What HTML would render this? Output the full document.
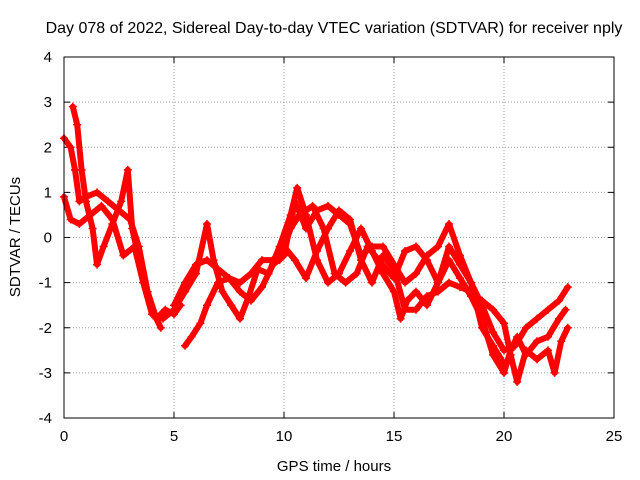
<!DOCTYPE html>
<html><head><meta charset="utf-8"><style>
body{margin:0;background:#fff}
svg{display:block;font-family:"Liberation Sans",sans-serif;font-size:15px}
</style></head><body>
<svg id="chart" width="640" height="480">
<text x="334" y="33" text-anchor="middle" style="font-size:16px">Day 078 of 2022, Sidereal Day-to-day VTEC variation (SDTVAR) for receiver nply</text>
<text x="334" y="471" text-anchor="middle">GPS time / hours</text>
<text transform="translate(20,237) rotate(-90)" text-anchor="middle">SDTVAR / TECUs</text>
<g id="grid"></g><g id="ticks"></g><g id="series"></g>
<rect x="64" y="57" width="550" height="361" fill="none" stroke="#000"/>
</svg>
<script>
const xTicks=[0,5,10,15,20,25];
const yTicks=[-4,-3,-2,-1,0,1,2,3,4];
const s1=[[0,2.2],[0.3,2.0],[0.5,1.5],[0.7,0.8],[1,0.9],[1.5,1.0],[2,0.8],[2.5,0.6],[3,0.4],[3.4,-0.2],[3.8,-1.2],[4.2,-1.8],[4.6,-1.6],[5,-1.7],[5.3,-1.5]];
const s2=[[0.4,2.9],[0.6,2.5],[0.8,1.5],[1.0,0.8],[1.3,0.2],[1.5,-0.6],[1.8,-0.2],[2.2,0.3],[2.6,0.8],[2.9,1.5],[3.1,0.2],[3.6,-0.9],[4.0,-1.6],[4.4,-2.0]];
const s3=[[0,0.9],[0.3,0.4],[0.7,0.3],[1.2,0.5],[1.7,0.7],[2.2,0.4],[2.7,-0.4],[3.2,-0.2],[3.6,-1.0],[4,-1.7],[4.5,-1.8],[5,-1.6],[5.5,-1.2],[6,-0.8],[6.5,0.3],[6.8,-0.5],[7.2,-1.2],[7.6,-1.5],[8,-1.8],[8.4,-1.3],[8.8,-0.7],[9.3,-0.8],[9.8,-0.2],[10.3,0.5],[10.6,1.1],[11,0.5],[11.5,-0.5],[12,-1.0],[12.5,-0.8],[13,-0.3],[13.5,0.2],[14,-0.3],[14.5,-0.8],[15,-1.2],[15.3,-1.8],[15.6,-1.4],[16,-1.2],[16.5,-1.5],[17,-1.0],[17.5,-0.5],[18,-0.9],[18.5,-1.3],[19,-1.8],[19.5,-2.6],[20,-3.0],[20.3,-2.5],[20.6,-2.2],[21,-2.6],[21.5,-2.3],[22,-2.2],[22.5,-1.8],[22.8,-1.6]];
const s4=[[5.5,-2.4],[5.8,-2.2],[6.2,-1.9],[6.5,-1.5],[7,-1.0],[7.5,-0.9],[8,-1.2],[8.5,-1.4],[9,-1.1],[9.5,-0.6],[10,-0.4],[10.5,0.8],[11,0.2],[11.5,0.6],[12,0.7],[12.5,0.5],[13,0.3],[13.5,-0.4],[14,-0.2],[14.5,-0.2],[15,-0.6],[15.5,-1.0],[16,-0.8],[16.5,-0.4],[17,-0.2],[17.5,0.3],[18,-0.4],[18.5,-1.0],[19,-1.5],[19.5,-2.1],[20,-2.5],[20.5,-2.4],[21,-2.0],[21.5,-1.8],[22,-1.6],[22.5,-1.4],[22.9,-1.1]];
const s5=[[5,-1.5],[5.5,-1.0],[6,-0.6],[6.5,-0.5],[7,-0.7],[7.5,-0.9],[8,-1.0],[8.5,-0.8],[9,-0.5],[9.5,-0.5],[10,-0.2],[10.5,-0.5],[11,-0.9],[11.5,-0.3],[12,0.2],[12.5,0.6],[13,0.4],[13.5,-0.5],[14,-1.0],[14.5,-0.4],[15,-0.7],[15.5,-1.6],[16,-1.6],[16.5,-1.3],[17,-1.2],[17.5,-1.0],[18,-1.1],[18.5,-1.2],[19,-1.4],[19.5,-1.6],[20,-1.9],[20.3,-2.6],[20.6,-3.2],[21,-2.5],[21.5,-2.7],[22,-2.5],[22.3,-3.0],[22.6,-2.3],[22.9,-2.0]];
const s6=[[9.8,-0.5],[10.3,0.2],[10.7,0.5],[11.3,0.7],[11.8,0.2],[12.3,-0.8],[12.8,-1.0],[13.3,-0.8],[13.8,-0.2],[14.3,-0.5],[15,-0.9],[15.5,-0.3],[16,-0.2],[16.5,-0.5],[17,-1.0],[17.5,-0.2],[18,-0.6],[18.5,-1.0],[19,-2.0],[19.5,-2.4],[20,-2.8]];
const allSeries=[s1,s2,s3,s4,s5,s6];
const NS="http://www.w3.org/2000/svg";
const X0=64,X1=614,Y0=418,Y1=57;
function xs(v){return X0+(v-0)/(25-0)*(X1-X0);}
function ys(v){return Y0-(v+4)/8*(Y0-Y1);}
function mk(t,a,p){const e=document.createElementNS(NS,t);for(const k in a)e.setAttribute(k,a[k]);p.appendChild(e);return e;}
const grid=document.getElementById('grid'),ticks=document.getElementById('ticks'),ser=document.getElementById('series');
xTicks.forEach(v=>{const x=xs(v);
 if(v>0&&v<25){const g=mk('line',{x1:x,x2:x,y1:Y0,y2:Y1,stroke:'#a0a0a0','stroke-dasharray':'1,2'},grid);
 
 }
 mk('line',{x1:x,x2:x,y1:Y0,y2:Y0-6,stroke:'#000'},ticks);mk('line',{x1:x,x2:x,y1:Y1,y2:Y1+6,stroke:'#000'},ticks);
 const t=mk('text',{x:x,y:Y0+23,'text-anchor':'middle'},ticks);t.textContent=v;
 
 });
yTicks.forEach(v=>{const y=ys(v);
 if(v>-4&&v<4){const g=mk('line',{x1:X0,x2:X1,y1:y,y2:y,stroke:'#a0a0a0','stroke-dasharray':'1,2'},grid);
 
 }
 mk('line',{x1:X0,x2:X0+6,y1:y,y2:y,stroke:'#000'},ticks);mk('line',{x1:X1,x2:X1-6,y1:y,y2:y,stroke:'#000'},ticks);
 const t=mk('text',{x:X0-12,y:y+5,'text-anchor':'end'},ticks);t.textContent=v;
 
 });
allSeries.forEach((s,i)=>{
 const pl=mk('polyline',{points:s.map(p=>xs(p[0])+','+ys(p[1])).join(' '),fill:'none',stroke:'#ff0000','stroke-width':6,'stroke-linejoin':'round','stroke-linecap':'round'},ser);
 
 
 s.forEach(p=>{const x=xs(p[0]),y=ys(p[1]);
  const m=mk('path',{d:`M${x-4},${y}H${x+4}M${x},${y-4}V${y+4}`,stroke:'#ff0000','stroke-width':1.5},ser);
  
  });
});
</script>
</body></html>
